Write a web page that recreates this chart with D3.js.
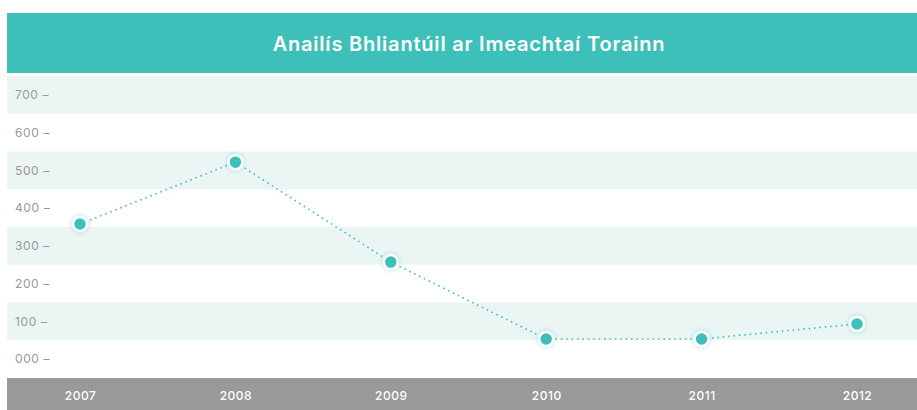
<!DOCTYPE html>
<html>
  <head>
    <meta charset="utf-8">
    <title>Anailís Bhliantúil</title>
    <style>
      body {
        margin: 0;
        padding: 0;
        background: #fff;
        font-family: Inter, sans-serif;
      }
    </style>
  </head>
  <body>
    <div id="chart"></div>

    <script src="https://cdn.jsdelivr.net/npm/d3@7/dist/d3.min.js"></script>
    <script>
      // Data
      const years = ["2007", "2008", "2009", "2010", "2011", "2012"];
      const events = [358, 522, 257, 53, 53, 93];
      const yTicks = [0, 100, 200, 300, 400, 500, 600, 700];
      const title = "Anailís Bhliantúil ar Imeachtaí Torainn";

      const teal = "#3dbfba";

      const svg = d3.select('#chart')
                    .append('svg')
                    .attr('width', 917)
                    .attr('height', 410);

      const defs = svg.append('defs');
      const glow = defs.append('filter')
                       .attr('id', 'glow')
                       .attr('x', '-100%').attr('y', '-100%')
                       .attr('width', '300%').attr('height', '300%');
      glow.append('feGaussianBlur').attr('in', 'SourceAlpha').attr('stdDeviation', 2.5).attr('result', 'b');
      glow.append('feFlood').attr('flood-color', teal).attr('flood-opacity', 0.45);
      glow.append('feComposite').attr('in2', 'b').attr('operator', 'in').attr('result', 's');
      const merge = glow.append('feMerge');
      merge.append('feMergeNode').attr('in', 's');
      merge.append('feMergeNode').attr('in', 'SourceGraphic');

      // Scales
      const x = d3.scalePoint()
                  .domain(years)
                  .range([80, 857]);

      const y = d3.scaleLinear()
                  .domain([0, 700])
                  .range([359, 95]);

      const half = (y(0) - y(100)) / 2;

      // Header
      svg.append('rect')
         .attr('x', 7).attr('y', 13)
         .attr('width', 910).attr('height', 60)
         .attr('fill', teal);

      svg.append('text')
         .attr('x', 469).attr('y', 51)
         .attr('text-anchor', 'middle')
         .attr('fill', '#fff')
         .attr('font-size', 20)
         .attr('font-weight', 600)
         .attr('letter-spacing', 0.8)
         .text(title);

      // Stripes
      svg.selectAll('.band')
         .data(yTicks.filter(d => d % 200 === 100))
         .enter()
         .append('rect')
         .attr('class', 'band')
         .attr('x', 7)
         .attr('y', d => y(d) - half)
         .attr('width', 910)
         .attr('height', half * 2)
         .attr('fill', '#ebf5f4');

      // Y axis
      const yAxis = svg.append('g')
         .attr('transform', 'translate(15,0)')
         .call(d3.axisRight(y).tickValues(yTicks).tickSize(0)
                 .tickFormat(d => d3.format('03d')(d) + ' –'));
      yAxis.select('.domain').remove();
      yAxis.selectAll('text')
           .attr('x', 0)
           .attr('fill', '#999')
           .attr('font-size', 12)
           .attr('letter-spacing', 0.6)
           .attr('font-family', 'Inter, sans-serif');

      // X axis bar
      svg.append('rect')
         .attr('x', 7).attr('y', 378)
         .attr('width', 910).attr('height', 32)
         .attr('fill', '#999');

      const xAxis = svg.append('g')
         .attr('transform', 'translate(0,378)')
         .call(d3.axisBottom(x).tickSize(0));
      xAxis.select('.domain').remove();
      xAxis.selectAll('text')
           .attr('y', 13)
           .attr('fill', '#fff')
           .attr('font-size', 12)
           .attr('font-weight', 500)
           .attr('letter-spacing', 0.5)
           .attr('font-family', 'Inter, sans-serif');

      // Line
      const line = d3.line()
                     .x((d, i) => x(years[i]))
                     .y(d => y(d));

      svg.append('path')
         .datum(events)
         .attr('d', line)
         .attr('fill', 'none')
         .attr('stroke', teal)
         .attr('stroke-width', 1.6)
         .attr('stroke-dasharray', '1.6 3.8');

      // Points
      svg.selectAll('.dot')
         .data(events)
         .enter()
         .append('circle')
         .attr('class', 'dot')
         .attr('cx', (d, i) => x(years[i]))
         .attr('cy', d => y(d))
         .attr('r', 7)
         .attr('fill', teal)
         .attr('stroke', '#fff')
         .attr('stroke-width', 2.5)
         .attr('filter', 'url(#glow)');
    </script>
  </body>
</html>
